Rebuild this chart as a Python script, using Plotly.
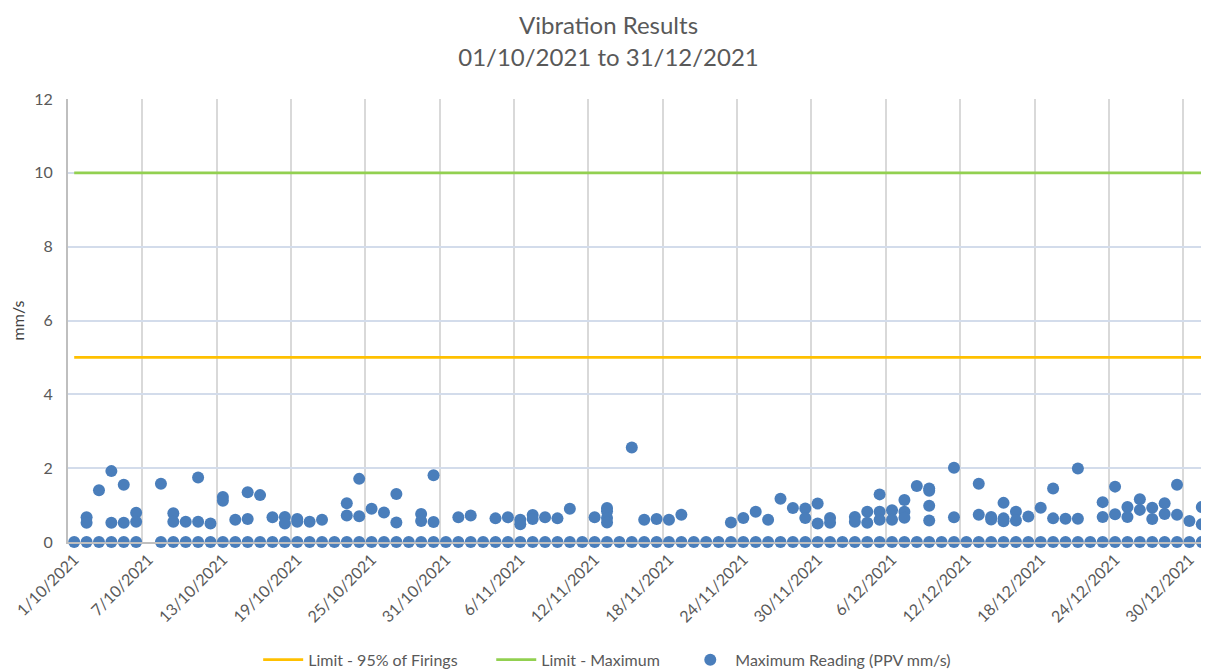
import pandas as pd
import plotly.graph_objects as go

# ---------------- data ----------------
start_date = "2021-10-01"
end_date = "2021-12-31"

limit_95_value = 5
limit_max_value = 10

# readings per day (mm/s), 1/10/2021 .. 31/12/2021 ; empty list = no reading that day
readings_by_day = [
    [0], [0, 0.67, 0.52], [0, 1.4], [0, 1.92, 0.52], [0, 1.55, 0.52], [0, 0.79, 0.55],
    [], [0, 1.58], [0, 0.78, 0.55], [0, 0.55], [0, 1.75, 0.55], [0, 0.5],
    [0, 1.22, 1.12], [0, 0.6], [0, 1.35, 0.62], [0, 1.27], [0, 0.67], [0, 0.68, 0.5],
    [0, 0.62, 0.55], [0, 0.55], [0, 0.6], [0], [0, 1.05, 0.72], [0, 1.71, 0.7],
    [0, 0.9], [0, 0.8], [0, 1.3, 0.53], [0], [0, 0.76, 0.57], [0, 1.81, 0.54],
    [0], [0, 0.67], [0, 0.72], [0], [0, 0.64], [0, 0.67],
    [0, 0.6, 0.48], [0, 0.73, 0.62], [0, 0.67], [0, 0.64], [0, 0.9], [0],
    [0, 0.67], [0, 0.92, 0.83, 0.65, 0.53], [0], [0, 2.56], [0, 0.6], [0, 0.62],
    [0, 0.6], [0, 0.74], [0], [0], [0], [0, 0.53],
    [0, 0.65], [0, 0.82], [0, 0.6], [0, 1.17], [0, 0.92], [0, 0.91, 0.65],
    [0, 1.04, 0.5], [0, 0.65, 0.52], [0], [0, 0.68, 0.55], [0, 0.82, 0.52], [0, 1.29, 0.82, 0.6],
    [0, 0.86, 0.6], [0, 1.14, 0.82, 0.66], [0, 1.52], [0, 1.45, 1.39, 0.98, 0.58], [0], [0, 2.01, 0.67],
    [0], [0, 1.58, 0.74], [0, 0.68, 0.61], [0, 1.06, 0.64, 0.56], [0, 0.82, 0.58], [0, 0.69],
    [0, 0.93], [0, 1.45, 0.64], [0, 0.63], [0, 1.99, 0.63], [0], [0, 1.08, 0.68],
    [0, 1.5, 0.75], [0, 0.95, 0.68], [0, 1.16, 0.87], [0, 0.93, 0.62], [0, 1.05, 0.76], [0, 1.55, 0.74],
    [0, 0.57], [0, 0.95, 0.48],
]

tick_dates = ["2021-10-01", "2021-10-07", "2021-10-13", "2021-10-19", "2021-10-25",
              "2021-10-31", "2021-11-06", "2021-11-12", "2021-11-18", "2021-11-24",
              "2021-11-30", "2021-12-06", "2021-12-12", "2021-12-18", "2021-12-24",
              "2021-12-30"]
tick_labels = ["1/10/2021", "7/10/2021", "13/10/2021", "19/10/2021", "25/10/2021",
               "31/10/2021", "6/11/2021", "12/11/2021", "18/11/2021", "24/11/2021",
               "30/11/2021", "6/12/2021", "12/12/2021", "18/12/2021", "24/12/2021",
               "30/12/2021"]

series_names = ["Limit - 95% of Firings", "Limit - Maximum", "Maximum Reading (PPV mm/s)"]

# ---------------- build ----------------
days = pd.date_range(start_date, end_date, freq="D")
pt_x, pt_y = [], []
for d, vals in zip(days, readings_by_day):
    for v in vals:
        pt_x.append(d)
        pt_y.append(v)

half_day = pd.Timedelta(hours=12)
boundaries = [pd.Timestamp(t) - half_day for t in tick_dates[1:]]

FONT = "Lato"
GREY = "#595959"
NB = "\u00a0"

fig = go.Figure()
fig.add_trace(go.Scatter(
    x=days, y=[limit_95_value] * len(days), mode="lines",
    name=series_names[0] + NB * 7, line=dict(color="#FFC000", width=2.6),
    hoverinfo="skip"))
fig.add_trace(go.Scatter(
    x=days, y=[limit_max_value] * len(days), mode="lines",
    name=series_names[1] + NB * 5, line=dict(color="#92D050", width=2.6),
    hoverinfo="skip"))
fig.add_trace(go.Scatter(
    x=pt_x, y=pt_y, mode="markers", name=series_names[2],
    marker=dict(color="#4A7EBB", size=12, line=dict(width=0)),
    cliponaxis=False))

# page body has an 8px margin, so the figure is sized to fit the 1209x669 window
fig.update_layout(
    width=1201, height=661,
    paper_bgcolor="white", plot_bgcolor="white",
    margin=dict(l=60, r=1, t=91, b=127),
    font=dict(family=FONT, size=16, color=GREY),
    title=dict(
        text="Vibration Results<br>01/10/2021 to 31/12/2021",
        x=0.5, xanchor="center", y=0.96, yanchor="top",
        font=dict(family=FONT, size=24, color=GREY)),
    legend=dict(
        orientation="h", xref="container", x=0.2083, xanchor="left",
        yref="container", y=0.014, yanchor="middle",
        itemwidth=40,
        font=dict(family=FONT, size=16, color=GREY), bgcolor="rgba(0,0,0,0)"),
    showlegend=True,
)

fig.update_xaxes(
    type="date", automargin=False,
    range=[pd.Timestamp(start_date) - half_day, pd.Timestamp(end_date) + half_day],
    tickmode="array", tickvals=tick_dates, ticktext=tick_labels,
    tickangle=-45, ticks="", showgrid=False,
    showline=True, linecolor="#BFBFBF", linewidth=2,
    tickfont=dict(family=FONT, size=16, color=GREY),
    minor=dict(tickmode="array", tickvals=boundaries, showgrid=True,
               gridcolor="#D9D9D9", gridwidth=2, ticks=""),
    zeroline=False,
)
fig.update_yaxes(
    range=[0, 12], dtick=2, tick0=0, automargin=False,
    showgrid=True, gridcolor="#D3DCEB", gridwidth=1.5,
    showline=True, linecolor="#BFBFBF", linewidth=2,
    zeroline=False, ticks="", ticklabelstandoff=10,
    tickfont=dict(family=FONT, size=16, color=GREY),
    title=dict(text="mm/s", font=dict(family=FONT, size=16, color="#404040"), standoff=8),
)

fig.write_html("out.html")
